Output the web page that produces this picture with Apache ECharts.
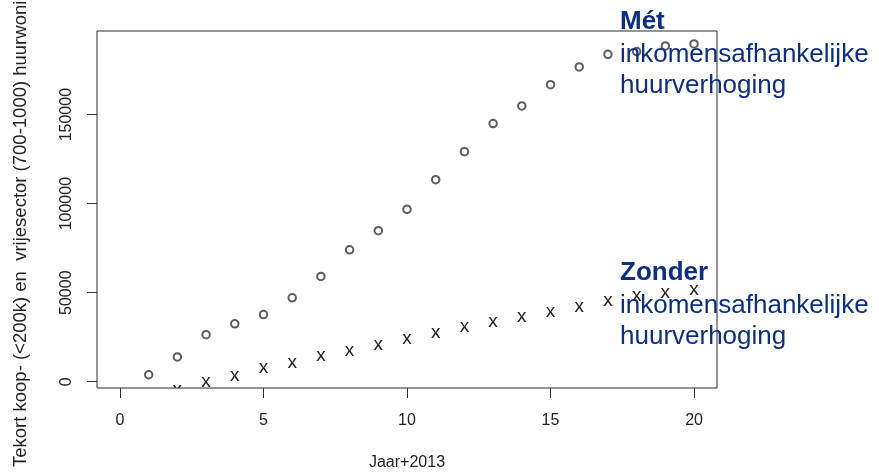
<!DOCTYPE html>
<html>
<head>
<meta charset="utf-8">
<script src="https://cdn.jsdelivr.net/npm/echarts@6/dist/echarts.min.js"></script>
<style>
html,body{margin:0;padding:0;background:#fff;}
#chart{width:879px;height:472px;}
</style>
</head>
<body>
<div id="chart"></div>
<script>
// Data
const years = [1,2,3,4,5,6,7,8,9,10,11,12,13,14,15,16,17,18,19,20];
const metValues = [3900, 13900, 26400, 32500, 37700, 47100, 59100, 74100, 84800, 96800, 113500, 129200, 145000, 154900, 166800, 176800, 183900, 185400, 188600, 189700];
const zonderYears = [2,3,4,5,6,7,8,9,10,11,12,13,14,15,16,17,18,19,20];
const zonderValues = [-5000, -700, 3000, 7000, 10100, 13900, 16800, 20400, 23800, 26900, 30100, 33300, 35900, 38900, 41700, 44700, 47500, 49400, 51200];
const xTicks = [0, 5, 10, 15, 20];
const yTicks = [0, 50000, 100000, 150000];
const xTitle = 'Jaar+2013';
const yTitle = 'Tekort koop- (<200k) en  vrijesector (700-1000) huurwoningen';
const annotMet = ['Mét', 'inkomensafhankelijke', 'huurverhoging'];
const annotZonder = ['Zonder', 'inkomensafhankelijke', 'huurverhoging'];

const FONT = 'Liberation Sans, Arial, sans-serif';
const BLUE = '#0d2f80';

const metData = years.map((x, i) => [x, metValues[i]]);
const zonderData = zonderYears.map((x, i) => [x, zonderValues[i]]);

function annot(lines, baseY) {
  const ys = [0, 33, 64];
  return lines.map((t, i) => ({
    type: 'text', left: 620, top: baseY + ys[i], z: 100,
    style: { text: t, fill: BLUE, font: (i === 0 ? 'bold ' : '') + '26px ' + FONT }
  }));
}

const chart = echarts.init(document.getElementById('chart'), null, {renderer: 'canvas'});
chart.setOption({
  animation: false,
  backgroundColor: '#fff',
  grid: { left: 97, right: 162, top: 31, bottom: 84, show: true, borderColor: '#2b2b2b', borderWidth: 1, backgroundColor: 'transparent', containLabel: false, outerBoundsMode: 'none' },
  xAxis: {
    type: 'value', min: -0.8, max: 20.8,
    splitLine: { show: false },
    axisLine: { show: false, onZero: false },
    axisTick: { show: true, inside: false, length: 10, customValues: xTicks, lineStyle: { color: '#333', width: 1 } },
    axisLabel: { customValues: xTicks, margin: 25, fontSize: 16, color: '#222', fontFamily: FONT },
    name: xTitle, nameLocation: 'middle', nameGap: 67,
    nameTextStyle: { fontSize: 16, color: '#222', fontFamily: FONT }
  },
  yAxis: {
    type: 'value', min: -3535, max: 196980,
    splitLine: { show: false },
    axisLine: { show: false, onZero: false },
    axisTick: { show: true, inside: false, length: 10, customValues: yTicks, lineStyle: { color: '#333', width: 1 } },
    axisLabel: { customValues: yTicks, rotate: 90, margin: 22, fontSize: 16, color: '#222', fontFamily: FONT, formatter: v => String(v) }
  },
  series: [
    {
      type: 'scatter', data: metData, symbol: 'emptyCircle', symbolSize: 7.5,
      itemStyle: { color: '#333', borderWidth: 1 }, z: 3
    },
    {
      type: 'custom', data: zonderData, clip: true, z: 3,
      renderItem: function (params, api) {
        const p = api.coord([api.value(0), api.value(1)]);
        return { type: 'text', x: p[0], y: p[1] - 1, style: { text: 'x', font: '19px ' + FONT, fill: '#222', align: 'center', verticalAlign: 'middle' } };
      }
    }
  ],
  graphic: [{
    type: 'text', x: 21, y: 467, rotation: Math.PI / 2, z: 50,
    style: { text: yTitle, font: '18.5px ' + FONT, fill: '#222', align: 'left', verticalAlign: 'middle' }
  }].concat(annot(annotMet, 9)).concat(annot(annotZonder, 260))
});
</script>
</body>
</html>
